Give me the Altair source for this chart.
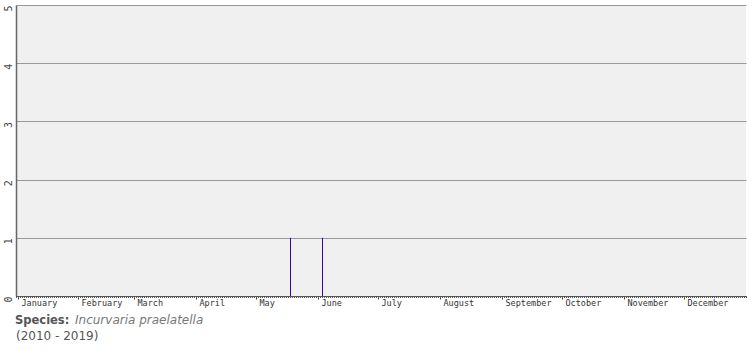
import altair as alt
import pandas as pd

# Observation data: day of year (0 = 1 January) and number of records
obs_day = [137, 153]
obs_count = [1, 1]

month_names = ["January", "February", "March", "April", "May", "June",
               "July", "August", "September", "October", "November", "December"]
month_start = [1, 31, 59, 90, 120, 151, 181, 212, 243, 273, 304, 334]
y_ticks = [0, 1, 2, 3, 4, 5]

species = "Incurvaria praelatella"
years = "(2010 - 2019)"

obs = pd.DataFrame({"day": obs_day, "count": obs_count})

label_map = "{" + ",".join(f"'{v}':'{n}'" for v, n in zip(month_start, month_names)) + "}"

xscale = alt.Scale(domain=[0, 365], nice=False, zero=False)
yscale = alt.Scale(domain=[0, 5], nice=False)

bars = alt.Chart(obs).mark_rule(color="#3300aa", strokeWidth=1, xOffset=0.5).encode(
    x=alt.X("day:Q", scale=xscale,
            axis=alt.Axis(values=month_start, title=None, grid=False,
                          labelExpr=f"{label_map}[datum.value]",
                          labelAlign="left", labelOffset=3, labelPadding=-1,
                          labelFont="DejaVu Sans Mono", labelFontSize=8.5,
                          labelColor="#333", tickSize=3, tickColor="#444",
                          domainColor="#555")),
    y=alt.Y("count:Q", scale=yscale,
            axis=alt.Axis(values=y_ticks, title=None, grid=True, gridColor="#999",
                          ticks=False, labelAngle=270, labelAlign="right",
                          labelBaseline="middle", labelPadding=8,
                          labelFont="DejaVu Sans Mono", labelFontSize=10,
                          labelColor="#444", domainColor="#666", domainWidth=1.5)),
    y2=alt.datum(0),
)

minor_days = pd.DataFrame({"d": list(range(0, 366))})
minor = alt.Chart(minor_days).mark_rule(color="#555", strokeWidth=1, xOffset=0.5).encode(
    x=alt.X("d:Q", scale=xscale),
    y=alt.value(291),
    y2=alt.value(293),
)

t1 = alt.Chart(pd.DataFrame({"t": ["Species:"]})).mark_text(
    align="left", baseline="alphabetic", font="DejaVu Sans", fontSize=11.5,
    fontWeight="bold", color="#555").encode(text="t:N", x=alt.value(-1), y=alt.value(319))
t2 = alt.Chart(pd.DataFrame({"t": [species]})).mark_text(
    align="left", baseline="alphabetic", font="DejaVu Sans", fontSize=12,
    fontStyle="italic", color="#777").encode(text="t:N", x=alt.value(59), y=alt.value(319))
t3 = alt.Chart(pd.DataFrame({"t": [years]})).mark_text(
    align="left", baseline="alphabetic", font="DejaVu Sans", fontSize=12,
    color="#555").encode(text="t:N", x=alt.value(0), y=alt.value(335))

chart = alt.layer(minor, bars, t1, t2, t3).properties(
    width=730, height=291,
    autosize=alt.AutoSizeParams(type="none"),
    padding={"left": 16, "top": 5, "right": 9, "bottom": 54},
    background="white",
).configure_view(fill="#f0f0f0", strokeWidth=0)

chart.save("out.html", embed_options={"renderer": "svg", "actions": False})
